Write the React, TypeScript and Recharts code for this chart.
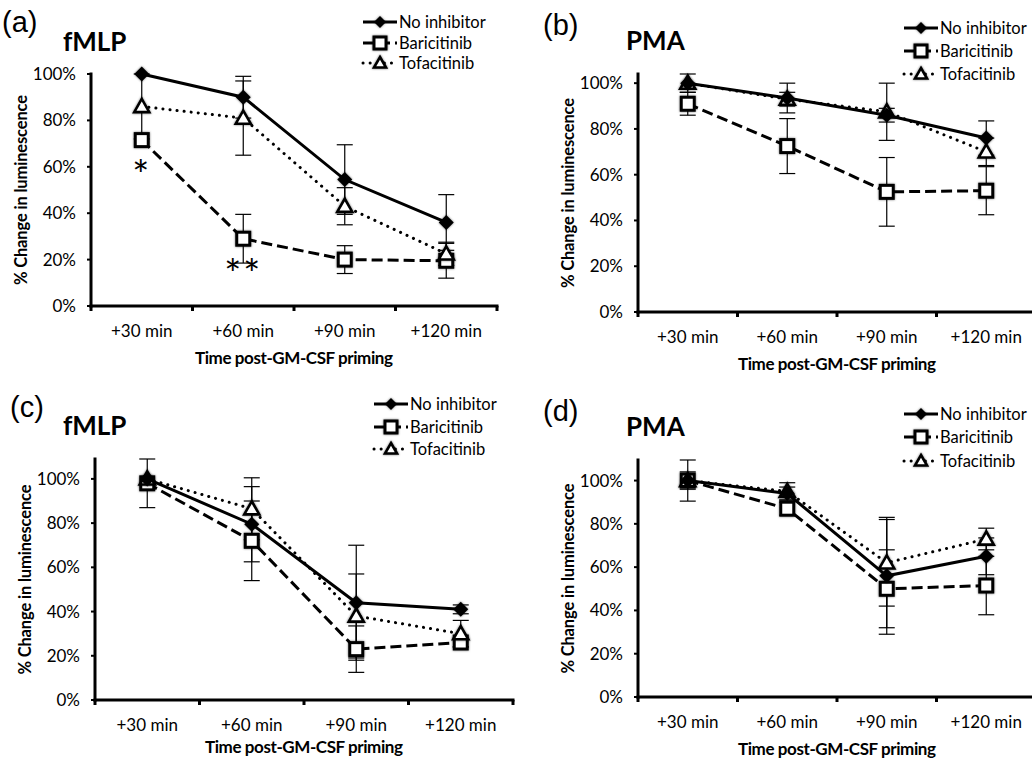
import React from 'react';
import { LineChart, Line, XAxis, YAxis, ErrorBar, LabelList } from 'recharts';

const TIMES = ['+30 min', '+60 min', '+90 min', '+120 min'];
const PCT_TICKS = [0, 20, 40, 60, 80, 100];

// (a) fMLP
const A_NONE = [100, 90, 54.5, 36];
const A_NONE_ERR = [0, 9, 15, 12];
const A_BARI = [71.5, 29, 20, 19.5];
const A_BARI_ERR = [0, 10.5, 6, 7.5];
const A_TOFA = [86, 81, 43, 22.5];
const A_TOFA_ERR = [14, 16, 8, 5];
const A_SIG = ['*', '**', '', ''];

// (b) PMA
const B_NONE = [100, 93.5, 86, 76];
const B_NONE_ERR = [4, 6.5, 3, 7.5];
const B_BARI = [91, 72.5, 52.5, 53];
const B_BARI_ERR = [5, 12, 15, 10.5];
const B_TOFA = [100, 93, 87.5, 70];
const B_TOFA_ERR = [0, 3, 12.5, 6];

// (c) fMLP
const C_NONE = [100, 79.5, 44, 41];
const C_NONE_ERR = [0, 17, 26, 2];
const C_BARI = [98, 72, 23, 26];
const C_BARI_ERR = [11, 18, 10.5, 2];
const C_TOFA = [100, 86.5, 38, 30];
const C_TOFA_ERR = [0, 14, 19, 6];

// (d) PMA
const D_NONE = [100, 94, 56, 65];
const D_NONE_ERR = [4, 3, 27, 8.5];
const D_BARI = [100, 87, 50, 51.5];
const D_BARI_ERR = [9.5, 3, 18, 13.5];
const D_TOFA = [100, 95, 62, 73];
const D_TOFA_ERR = [0, 4, 20, 5];

const FONT = 'Lato, "Open Sans", sans-serif';
const INK = '#000';

function buildRows(none: number[], noneErr: number[], bari: number[], bariErr: number[], tofa: number[], tofaErr: number[], sig?: string[]) {
    return TIMES.map((time, i) => ({
        time,
        none: none[i], noneErr: noneErr[i],
        bari: bari[i], bariErr: bariErr[i],
        tofa: tofa[i], tofaErr: tofaErr[i],
        sig: sig ? sig[i] : '',
    }));
}

const markerShadow = { filter: 'drop-shadow(0 0 1px rgba(0,0,0,0.55))' };

const DiamondDot = ({ cx, cy, r = 7.5 }: any) => {
    if (cx == null || cy == null) return null;
    return <path style={markerShadow} d={`M${cx},${cy - r}L${cx + r},${cy}L${cx},${cy + r}L${cx - r},${cy}Z`} fill={INK} />;
};

const SquareDot = ({ cx, cy, r = 6.5 }: any) => {
    if (cx == null || cy == null) return null;
    return <rect style={markerShadow} x={cx - r} y={cy - r} width={r * 2} height={r * 2} fill="#fff" stroke={INK} strokeWidth={3} />;
};

const TriangleDot = ({ cx, cy, r = 7.5 }: any) => {
    if (cx == null || cy == null) return null;
    return <path style={markerShadow} d={`M${cx},${cy - r}L${cx + r},${cy + r * 0.75}L${cx - r},${cy + r * 0.75}Z`}
        fill="#fff" stroke={INK} strokeWidth={2.6} strokeLinejoin="miter" />;
};

// draw order matches the original: No inhibitor markers end up on top
const SERIES = [
    { key: 'bari', name: 'Baricitinib', dash: '11 5', cap: 'butt', Dot: SquareDot },
    { key: 'tofa', name: 'Tofacitinib', dash: '0.1 7', cap: 'round', Dot: TriangleDot },
    { key: 'none', name: 'No inhibitor', dash: undefined, cap: 'butt', Dot: DiamondDot },
];
const LEGEND_ORDER = ['none', 'bari', 'tofa'];

const TimeTick = (props: any) => {
    const { x, y, payload, index, visibleTicksCount, width } = props;
    const half = payload && payload.offset > 0 ? payload.offset : width / visibleTicksCount / 2;
    const last = index === visibleTicksCount - 1;
    return (
        <g>
            <line x1={x - half} x2={x - half} y1={y} y2={y + 5} stroke={INK} strokeWidth={3} />
            {last && <line x1={x + half} x2={x + half} y1={y} y2={y + 5} stroke={INK} strokeWidth={3} />}
            <text x={x} y={y + 24} textAnchor="middle" dominantBaseline="central" fontSize={17} fontFamily={FONT} fill={INK}>
                {payload.value}
            </text>
        </g>
    );
};

const yTitle = ({ viewBox }: any) => (
    <text transform={`translate(${viewBox.x + viewBox.width - 70}, ${viewBox.y + viewBox.height / 2}) rotate(-90)`}
        textAnchor="middle" dominantBaseline="central" fontSize={16.5} fontWeight={700} fontFamily={FONT} fill={INK}
        textLength={190} lengthAdjust="spacing">
        % Change in luminescence
    </text>
);

const makeXTitle = (drop: number) => ({ viewBox }: any) => (
    <text x={viewBox.x + viewBox.width / 2} y={viewBox.y + drop} textAnchor="middle" dominantBaseline="central"
        fontSize={17} fontWeight={700} fontFamily={FONT} fill={INK} textLength={198} lengthAdjust="spacing">
        Time post-GM-CSF priming
    </text>
);

const SigLabel = (props: any) => {
    const { x, y, value } = props;
    if (!value) return null;
    return (
        <text x={x} y={y + 50} textAnchor="middle" fontSize={40} fontFamily={FONT} letterSpacing={2} fill={INK}>{value}</text>
    );
};

function LegendBox({ left, top, gap }: { left: number; top: number; gap: number }) {
    return (
        <div style={{ position: 'absolute', left, top, fontFamily: FONT, fontSize: 16.5, color: INK }}>
            {LEGEND_ORDER.map(k => {
                const s = SERIES.find(q => q.key === k)!;
                const D = s.Dot;
                return (
                    <div key={k} style={{ display: 'flex', alignItems: 'center', height: gap, whiteSpace: 'nowrap' }}>
                        <svg width={36} height={16} style={{ overflow: 'visible', flexShrink: 0 }}>
                            <line x1={1} x2={35} y1={8} y2={8} stroke={INK} strokeWidth={3}
                                strokeDasharray={s.dash} strokeLinecap={s.cap as any} />
                            <D cx={18} cy={8} r={6} />
                        </svg>
                        <span style={{ marginLeft: 1 }}>{s.name}</span>
                    </div>
                );
            })}
        </div>
    );
}

type PanelProps = {
    data: any[];
    letter: string;
    title: string;
    box: { left: number; top: number; width: number; height: number };
    margin: { top: number; right: number; bottom: number; left: number };
    letterPos: { left: number; cy: number };
    titlePos: { left: number; cy: number };
    legend: { left: number; top: number; gap: number };
    xTitleDrop?: number;
};

function Panel({ data, letter, title, box, margin, letterPos, titlePos, legend, xTitleDrop = 51 }: PanelProps) {
    return (
        <>
            <div style={{ position: 'absolute', left: box.left, top: box.top }}>
                <LineChart width={box.width} height={box.height} data={data} margin={margin}>
                    <XAxis dataKey="time" scale="band" height={50} tickSize={0} tickMargin={0} tickLine={false}
                        axisLine={{ stroke: INK, strokeWidth: 3, strokeLinecap: 'square' }}
                        tick={<TimeTick />} interval={0} label={makeXTitle(xTitleDrop)} />
                    <YAxis type="number" domain={[0, 100]} ticks={PCT_TICKS} width={60} tickSize={4} tickMargin={11}
                        tickFormatter={(v: number) => `${v}%`}
                        tick={{ fontSize: 17, fontFamily: FONT, fill: INK }}
                        tickLine={{ stroke: INK, strokeWidth: 2 }}
                        axisLine={{ stroke: INK, strokeWidth: 3, strokeLinecap: 'square' }}
                        label={yTitle} />
                    {SERIES.map(s => (
                        <Line key={s.key} type="linear" dataKey={s.key} name={s.name} stroke={INK} strokeWidth={3}
                            strokeDasharray={s.dash} strokeLinecap={s.cap as any}
                            dot={(p: any) => <s.Dot key={`${s.key}-${p.index}`} cx={p.cx} cy={p.cy} />}
                            activeDot={false} isAnimationActive={false}>
                            <ErrorBar dataKey={`${s.key}Err`} direction="y" width={8} stroke={INK} strokeWidth={1.2} />
                            {s.key === 'bari' && <LabelList dataKey="sig" content={SigLabel} />}
                        </Line>
                    ))}
                </LineChart>
            </div>
            <div style={{ position: 'absolute', left: letterPos.left, top: letterPos.cy - 17, lineHeight: '34px',
                fontSize: 29, fontFamily: '"Liberation Sans", Arial, sans-serif', color: INK }}>{letter}</div>
            <div style={{ position: 'absolute', left: titlePos.left, top: titlePos.cy - 16, lineHeight: '32px',
                fontSize: 26, fontWeight: 700, fontFamily: FONT, color: INK }}>{title}</div>
            <LegendBox {...legend} />
        </>
    );
}

export default function App() {
    const dataA = buildRows(A_NONE, A_NONE_ERR, A_BARI, A_BARI_ERR, A_TOFA, A_TOFA_ERR, A_SIG);
    const dataB = buildRows(B_NONE, B_NONE_ERR, B_BARI, B_BARI_ERR, B_TOFA, B_TOFA_ERR);
    const dataC = buildRows(C_NONE, C_NONE_ERR, C_BARI, C_BARI_ERR, C_TOFA, C_TOFA_ERR);
    const dataD = buildRows(D_NONE, D_NONE_ERR, D_BARI, D_BARI_ERR, D_TOFA, D_TOFA_ERR);

    return (
        <div style={{ position: 'absolute', left: 0, top: 0, width: 1032, height: 758, overflow: 'hidden', background: '#fff' }}>
            <Panel data={dataA} letter="(a)" title="fMLP"
                box={{ left: 0, top: 0, width: 516, height: 379 }}
                margin={{ top: 74, right: 19, bottom: 23, left: 31 }}
                letterPos={{ left: 2, cy: 22 }} titlePos={{ left: 63, cy: 41 }}
                legend={{ left: 362, top: 12, gap: 20.5 }} />
            <Panel data={dataB} letter="(b)" title="PMA"
                box={{ left: 516, top: 0, width: 520, height: 379 }}
                margin={{ top: 74, right: 0, bottom: 17, left: 62 }}
                letterPos={{ left: 543, cy: 25 }} titlePos={{ left: 626, cy: 40 }}
                legend={{ left: 903, top: 16.5, gap: 23 }} />
            <Panel data={dataC} letter="(c)" title="fMLP"
                box={{ left: 0, top: 379, width: 516, height: 379 }}
                margin={{ top: 80, right: 3, bottom: 8, left: 35 }}
                letterPos={{ left: 10, cy: 407 }} titlePos={{ left: 63, cy: 425 }}
                legend={{ left: 373, top: 393, gap: 22.5 }} xTitleDrop={46} />
            <Panel data={dataD} letter="(d)" title="PMA"
                box={{ left: 516, top: 379, width: 520, height: 379 }}
                margin={{ top: 81, right: 0, bottom: 11, left: 62 }}
                letterPos={{ left: 543, cy: 411 }} titlePos={{ left: 626, cy: 426 }}
                legend={{ left: 903, top: 402, gap: 23.5 }} />
        </div>
    );
}
